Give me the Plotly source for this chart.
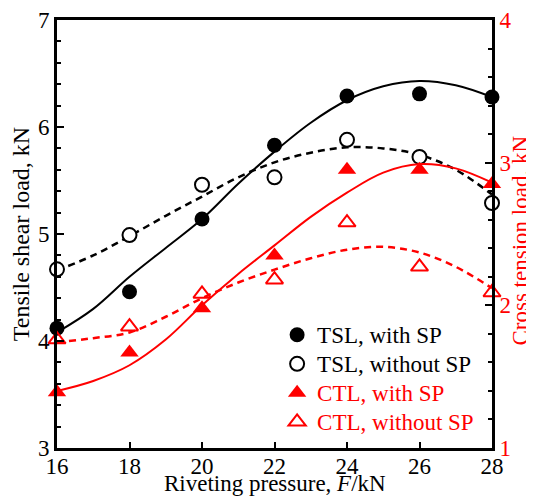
import plotly.graph_objects as go

# Riveting pressure (kN)
x_pts = [16, 18, 20, 22, 24, 26, 28]
# Tensile shear load (kN), left axis
tsl_with = [4.12, 4.46, 5.14, 5.83, 6.29, 6.31, 6.28]
tsl_without = [4.67, 4.99, 5.46, 5.53, 5.88, 5.72, 5.29]
# Cross tension load (kN), right axis
ctl_with = [1.39, 1.67, 1.98, 2.35, 2.95, 2.95, 2.85]
ctl_without = [1.76, 1.85, 2.08, 2.18, 2.58, 2.27, 2.09]

# Fitted trend curves
x_fit = [16, 17, 18, 19, 20, 21, 22, 23, 24, 25, 26, 27, 28]
tsl_with_fit = [4.08, 4.30, 4.60, 4.87, 5.14, 5.47, 5.77, 6.04, 6.25, 6.38, 6.43, 6.39, 6.28]
tsl_without_fit = [4.66, 4.80, 4.98, 5.17, 5.35, 5.53, 5.67, 5.76, 5.81, 5.80, 5.74, 5.60, 5.37]
ctl_with_fit = [1.40, 1.47, 1.58, 1.76, 2.00, 2.22, 2.42, 2.62, 2.79, 2.93, 2.99, 2.96, 2.86]
ctl_without_fit = [1.74, 1.77, 1.81, 1.92, 2.05, 2.16, 2.25, 2.33, 2.39, 2.41, 2.37, 2.27, 2.12]

X_TITLE = "Riveting pressure, <i>F</i>/kN"
Y2_TITLE = "Cross tension load, kN"
RED = "#ff0000"
FONT = "Liberation Serif"


def legend_label(text, color="black"):
    return f"<span style='font-size:23px;fill:{color};color:{color}'>{text}</span>"


fig = go.Figure()

# Trend curves
fig.add_trace(go.Scatter(x=x_fit, y=tsl_with_fit, mode="lines", line=dict(color="black", width=2, shape="spline"),
                         showlegend=False, hoverinfo="skip"))
fig.add_trace(go.Scatter(x=x_fit, y=tsl_without_fit, mode="lines",
                         line=dict(color="black", width=2.5, dash="7px,5px", shape="spline"),
                         showlegend=False, hoverinfo="skip"))
fig.add_trace(go.Scatter(x=x_fit, y=ctl_with_fit, mode="lines", yaxis="y2",
                         line=dict(color=RED, width=2, shape="spline"), showlegend=False, hoverinfo="skip"))
fig.add_trace(go.Scatter(x=x_fit, y=ctl_without_fit, mode="lines", yaxis="y2",
                         line=dict(color=RED, width=2.5, dash="7px,5px", shape="spline"),
                         showlegend=False, hoverinfo="skip"))

# Data points
fig.add_trace(go.Scatter(x=x_pts, y=tsl_with, mode="markers", name=legend_label("TSL, with SP"), cliponaxis=False,
                         marker=dict(symbol="circle", size=15, color="black")))
fig.add_trace(go.Scatter(x=x_pts, y=tsl_without, mode="markers", name=legend_label("TSL, without SP"),
                         cliponaxis=False,
                         marker=dict(symbol="circle", size=14, color="white", line=dict(color="black", width=2))))
fig.add_trace(go.Scatter(x=x_pts, y=ctl_with, mode="markers", yaxis="y2", cliponaxis=False,
                         name=legend_label("CTL, with SP", RED),
                         marker=dict(symbol="triangle-up", size=16, color=RED)))
fig.add_trace(go.Scatter(x=x_pts, y=ctl_without, mode="markers", yaxis="y2", cliponaxis=False,
                         name=legend_label("CTL, without SP", RED),
                         marker=dict(symbol="triangle-up-open", size=15, color=RED, line=dict(color=RED, width=2))))

fig.update_layout(
    width=534, height=497,
    margin=dict(l=49, r=50, t=12, b=57, autoexpand=False),
    paper_bgcolor="white", plot_bgcolor="white",
    font=dict(family=FONT, size=20, color="black"),
    xaxis=dict(range=[16, 28], tickvals=[16, 18, 20, 22, 24, 26, 28], ticks="inside", ticklen=6, tickwidth=1.5,
               tickcolor="black", showline=True, linewidth=3, linecolor="black", mirror=True,
               showgrid=False, zeroline=False, tickfont=dict(size=23, family=FONT), automargin=False,
               ticklabelstandoff=-5),
    yaxis=dict(range=[3, 7], tickvals=[3, 4, 5, 6, 7], ticks="inside", ticklen=7, tickwidth=1.5,
               tickcolor="black", showline=True, linewidth=3, linecolor="black", automargin=False,
               minor=dict(dtick=0.2, ticks="inside", ticklen=4, tickwidth=1.5, tickcolor="black"),
               showgrid=False, zeroline=False, tickfont=dict(size=23, family=FONT),
               title=dict(text="Tensile shear load, kN", font=dict(size=24, family=FONT), standoff=8)),
    yaxis2=dict(range=[1, 4], tickvals=[1, 2, 3, 4], overlaying="y", side="right", ticks="inside",
                ticklen=7, tickwidth=1.5, tickcolor="black", showline=True, linewidth=3, linecolor="black",
                minor=dict(dtick=0.2, ticks="inside", ticklen=4, tickwidth=1.5, tickcolor="black"),
                showgrid=False, zeroline=False, tickfont=dict(size=23, family=FONT, color=RED), automargin=False),
    legend=dict(x=0.506, y=0.31, xanchor="left", yanchor="top", bgcolor="rgba(0,0,0,0)",
                borderwidth=0, font=dict(size=20, family=FONT, color="black"), itemwidth=30),
    annotations=[
        dict(text=X_TITLE, xref="paper", yref="paper", x=0.5, y=-0.083, xanchor="center",
             yanchor="middle", showarrow=False, font=dict(size=23, family=FONT, color="black")),
        dict(text=Y2_TITLE, xref="paper", yref="paper", x=1.066, y=0.484, xanchor="center",
             yanchor="middle", textangle=-90, showarrow=False, font=dict(size=23, family=FONT, color=RED)),
    ],
)

fig.write_html("out.html")
